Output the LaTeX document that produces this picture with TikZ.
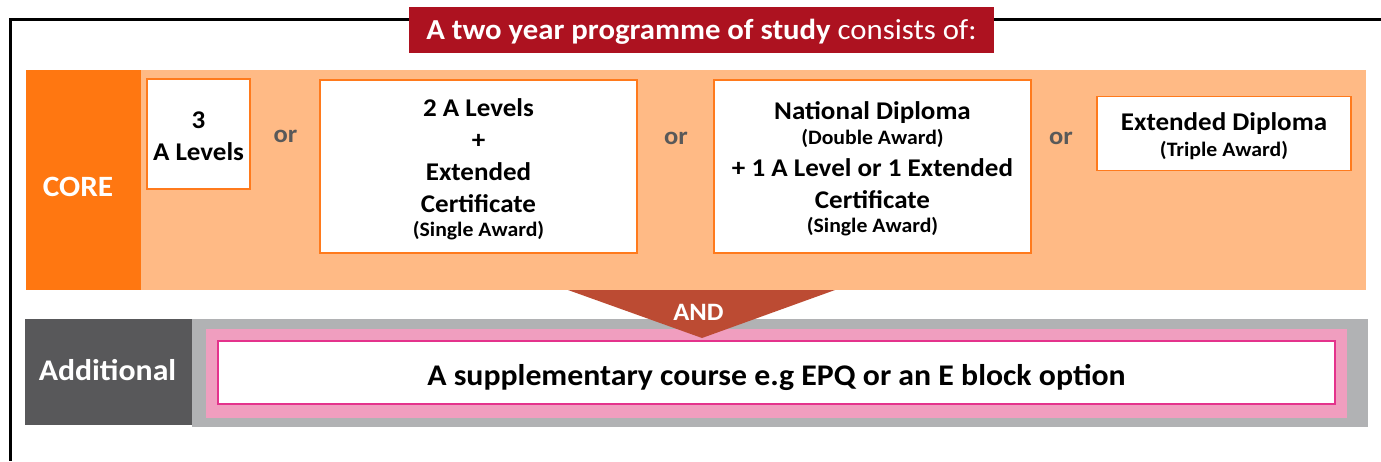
\documentclass[tikz,border=0pt]{standalone}
\usepackage{fontspec}
\setmainfont[FakeStretch=1.06]{Carlito}
\definecolor{titlered}{HTML}{AD1220}
\definecolor{dorange}{HTML}{FF7711}
\definecolor{lorange}{HTML}{FFBA85}
\definecolor{boxorange}{HTML}{FF7A1C}
\definecolor{orgray}{HTML}{595959}
\definecolor{andred}{HTML}{BC4B33}
\definecolor{dgray}{HTML}{58585A}
\definecolor{lgray}{HTML}{B1B2B4}
\definecolor{pinkbg}{HTML}{F09EBF}
\definecolor{magentaln}{HTML}{E4338C}
\newcommand\smalltext[1]{{\fontsize{20.5}{24}\selectfont #1}}
\begin{document}
\begin{tikzpicture}[x=1pt,y=-1pt,
  band/.style={inner sep=0pt, outer sep=0pt, draw=none},
  cell/.style={draw=boxorange, line width=1.4pt, fill=white, inner sep=0pt, outer sep=0pt},
  celltext/.style={font=\bfseries\fontsize{25.5}{32}\selectfont, align=center, inner sep=0pt, anchor=base},
  ortext/.style={font=\bfseries\fontsize{25}{28}\selectfont, text=orgray, inner sep=0pt, anchor=base},
  whitetext/.style={font=\bfseries\fontsize{29.5}{34}\selectfont, text=white, inner sep=0pt, anchor=base}]
\useasboundingbox (0,0) rectangle (1381,461);
% frame
\coordinate (fr) at (1381,19.5);
\coordinate (fc) at (10.7,19.5);
\coordinate (fb) at (10.7,461);
\draw[line width=2.5pt] (fr) -- (fc) -- (fb);
% title
\node[band, fill=titlered, minimum width=585, minimum height=46] (title) at (701.5,30) {};
\node[inner sep=0pt, anchor=base, text=white] (titletxt) at (701.5,39.5)
  {\fontsize{29}{34}\selectfont\bfseries A two year programme of study\mdseries\ consists of:};
% core band
\node[band, fill=lorange, minimum width=1340, minimum height=220] (coreband) at (696,180) {};
\node[band, fill=dorange, minimum width=115, minimum height=220] (core) at (83.5,180) {};
\node[whitetext] (coretxt) at (78,196.5) {CORE};
% option boxes
\node[cell, minimum width=103, minimum height=110] (b1) at (198.5,134) {};
\node[cell, minimum width=317, minimum height=173] (b2) at (478.5,166.5) {};
\node[cell, minimum width=317, minimum height=173] (b3) at (872.5,166.5) {};
\node[cell, minimum width=254, minimum height=74] (b4) at (1224,133.5) {};
\node[celltext] (b1t) at (198.5,160) {3\\A Levels};
\node[celltext] (b2t) at (478.5,236) {2 A Levels\\+\\Extended\\Certificate\\[-8pt]\smalltext{(Single Award)}};
\node[celltext] (b3t) at (872.5,232) {National Diploma\\[-7pt]\smalltext{(Double Award)}\\+ 1 A Level or 1 Extended\\Certificate\\[-8pt]\smalltext{(Single Award)}};
\node[celltext] (b4t) at (1224,156) {Extended Diploma\\[-6pt]\smalltext{(Triple Award)}};
\node[ortext] (or1) at (285.5,142) {or};
\node[ortext] (or2) at (676,144) {or};
\node[ortext] (or3) at (1061,144) {or};
% additional band
\node[band, fill=lgray, minimum width=1176, minimum height=108] (addband) at (780,373) {};
\node[band, fill=dgray, minimum width=167, minimum height=106] (add) at (108.5,372) {};
\node[whitetext, font=\bfseries\fontsize{30}{34}\selectfont] (addtxt) at (107.5,380.5) {Additional};
\node[band, fill=pinkbg, minimum width=1141, minimum height=89] (pinkbox) at (776.5,373.5) {};
% AND arrow
\coordinate (tl) at (568,290);
\coordinate (tr) at (835,290);
\coordinate (tp) at (702,338);
\fill[andred] (tl) -- (tr) -- (tp) -- cycle;
\node[whitetext, font=\bfseries\fontsize{25}{28}\selectfont] (andtxt) at (698.5,320) {AND};
% supplementary box
\node[draw=magentaln, line width=1.6pt, fill=white, inner sep=0pt, minimum width=1117, minimum height=63] (supp) at (776.5,372.5) {};
\node[inner sep=0pt, anchor=base, font=\bfseries\fontsize{30}{34}\selectfont] (supptxt) at (776.5,385) {A supplementary course e.g EPQ or an E block option};
\end{tikzpicture}
\end{document}
